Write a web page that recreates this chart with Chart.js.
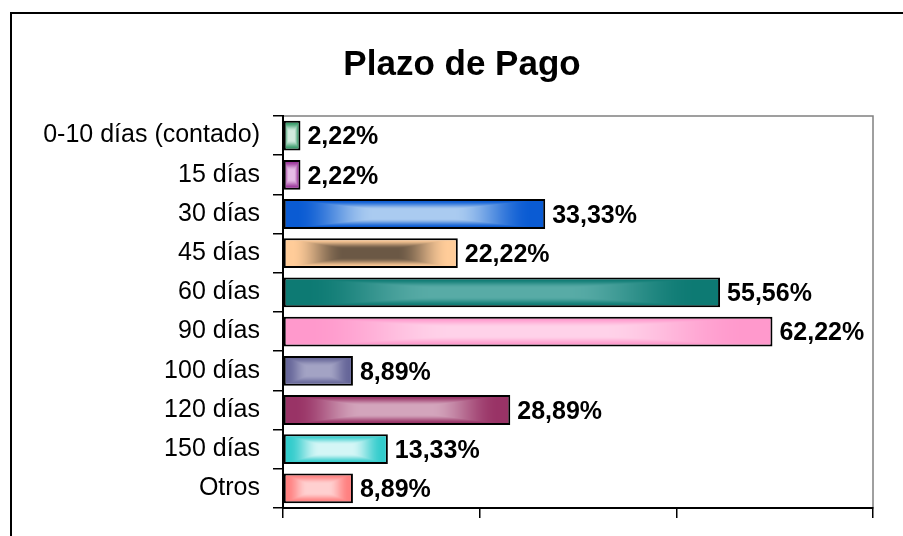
<!DOCTYPE html>
<html>
<head>
<meta charset="utf-8">
<script src="https://cdn.jsdelivr.net/npm/chart.js@4/dist/chart.umd.min.js"></script>
<style>
html, body { margin: 0; padding: 0; background: #fff; }
</style>
</head>
<body>
<canvas id="canvas" width="903" height="536"></canvas>
<script>
// datos
var categorias = ['0-10 días (contado)', '15 días', '30 días', '45 días', '60 días',
                  '90 días', '100 días', '120 días', '150 días', 'Otros'];
var porcentajes = [2.22, 2.22, 33.33, 22.22, 55.56, 62.22, 8.89, 28.89, 13.33, 8.89];
var ejeMax = 75;
var ejePaso = 25;

// colores del degradado: borde de la barra y centro
var colorBorde  = ['#339966', '#993399', '#0a5bd3', '#ffcc99', '#0d7a73',
                   '#ff99cc', '#666699', '#993366', '#33cccc', '#ff8080'];
var colorCentro = ['#d2ecdf', '#e6bde6', '#aacbf0', '#6b5845', '#58aba6',
                   '#ffd2e9', '#a3a3c4', '#d3a5bc', '#d4f6f6', '#ffd0d0'];

var fuente = '"Liberation Sans", Arial, sans-serif';
Chart.defaults.font.family = fuente;

function hexRgb(h) {
    return [parseInt(h.substr(1, 2), 16), parseInt(h.substr(3, 2), 16), parseInt(h.substr(5, 2), 16)];
}

var cache = {};
// degradado "desde el centro" como patron, una imagen por barra
function patronBarra(ctx) {
    var chart = ctx.chart;
    var i = ctx.dataIndex;
    var xs = chart.scales.x, ys = chart.scales.y;
    if (!chart.chartArea || !xs || !ys) return colorBorde[i];
    var x0 = xs.getPixelForValue(0);
    var x1 = xs.getPixelForValue(porcentajes[i]);
    var cat = Math.abs(ys.getPixelForValue(1) - ys.getPixelForValue(0));
    var h = Math.round(cat * 0.76);
    var top = ys.getPixelForValue(i) - h / 2;
    var w = Math.max(2, Math.round(x1 - x0));
    var key = i + '_' + w + '_' + h + '_' + Math.round(x0) + '_' + Math.round(top);
    if (cache[key]) return cache[key];

    var off = document.createElement('canvas');
    off.width = w; off.height = h;
    var octx = off.getContext('2d');
    var img = octx.createImageData(w, h);
    var a = hexRgb(colorCentro[i]), b = hexRgb(colorBorde[i]);
    var hw = w / 2, hh = h / 2;
    for (var y = 0; y < h; y++) {
        for (var x = 0; x < w; x++) {
            var t = Math.max(Math.abs(x + 0.5 - hw) / hw, Math.abs(y + 0.5 - hh) / hh);
            var s = Math.min(1, Math.max(0, (t - 0.3) / 0.6));
            s = s * s * (3 - 2 * s);
            var p = (y * w + x) * 4;
            img.data[p]     = a[0] + (b[0] - a[0]) * s;
            img.data[p + 1] = a[1] + (b[1] - a[1]) * s;
            img.data[p + 2] = a[2] + (b[2] - a[2]) * s;
            img.data[p + 3] = 255;
        }
    }
    octx.putImageData(img, 0, 0);
    var pat = chart.ctx.createPattern(off, 'no-repeat');
    pat.setTransform(new DOMMatrix([1, 0, 0, 1, x0, top]));
    cache[key] = pat;
    return pat;
}

// marco exterior y borde gris del area de trazado
var marcoPlugin = {
    id: 'marco',
    afterLayout: function(chart) {
        // el titulo va centrado algo a la derecha, como en el original
        if (chart.titleBlock) chart.titleBlock.left = 51;
    },
    beforeDraw: function(chart) {
        var c = chart.ctx, a = chart.chartArea;
        c.save();
        c.fillStyle = '#fff';
        c.fillRect(0, 0, chart.width, chart.height);
        c.strokeStyle = '#000';
        c.lineWidth = 2;
        c.strokeRect(11, 13, 1000, 1000);
        c.strokeStyle = '#808080';
        c.lineWidth = 1.5;
        c.strokeRect(a.left, a.top, a.right - a.left, a.bottom - a.top);
        c.restore();
    }
};

// etiquetas de porcentaje al final de cada barra
var etiquetasPlugin = {
    id: 'etiquetas',
    afterDatasetsDraw: function(chart) {
        var c = chart.ctx;
        var meta = chart.getDatasetMeta(0);
        c.save();
        c.font = 'bold 25px ' + fuente;
        c.fillStyle = '#000';
        c.textAlign = 'left';
        c.textBaseline = 'middle';
        meta.data.forEach(function(bar, i) {
            var txt = porcentajes[i].toFixed(2).replace('.', ',') + '%';
            c.fillText(txt, bar.x + 7, bar.y + 2);
        });
        c.restore();
    }
};

var ctx = document.getElementById('canvas').getContext('2d');
var myChart = new Chart(ctx, {
    type: 'bar',
    data: {
        labels: categorias,
        datasets: [{
            label: 'Plazo de Pago',
            data: porcentajes,
            backgroundColor: patronBarra,
            borderColor: '#000',
            borderWidth: 2,
            borderSkipped: false,
            categoryPercentage: 1,
            barPercentage: 0.76
        }]
    },
    options: {
        indexAxis: 'y',
        responsive: false,
        animation: false,
        layout: {
            padding: { top: 12, left: 0, right: 30, bottom: 15 }
        },
        plugins: {
            legend: { display: false },
            tooltip: { enabled: false },
            title: {
                display: true,
                text: 'Plazo de Pago',
                color: '#000',
                font: { size: 35, weight: 'bold' },
                padding: { top: 32, bottom: 30 }
            }
        },
        scales: {
            x: {
                type: 'linear',
                min: 0,
                max: ejeMax,
                ticks: { stepSize: ejePaso, display: false },
                grid: { drawOnChartArea: false, tickLength: 10, color: '#000', lineWidth: 1.5 },
                border: { color: '#000', width: 2 },
                afterFit: function(scale) { scale.height = 12; }
            },
            y: {
                type: 'category',
                ticks: { color: '#000', font: { size: 25 }, padding: 13, autoSkip: false },
                grid: { drawOnChartArea: false, offset: true, tickLength: 10, color: '#000', lineWidth: 1.5 },
                border: { color: '#000', width: 2 },
                afterFit: function(scale) { scale.width = 283; }
            }
        }
    },
    plugins: [marcoPlugin, etiquetasPlugin]
});
</script>
</body>
</html>
